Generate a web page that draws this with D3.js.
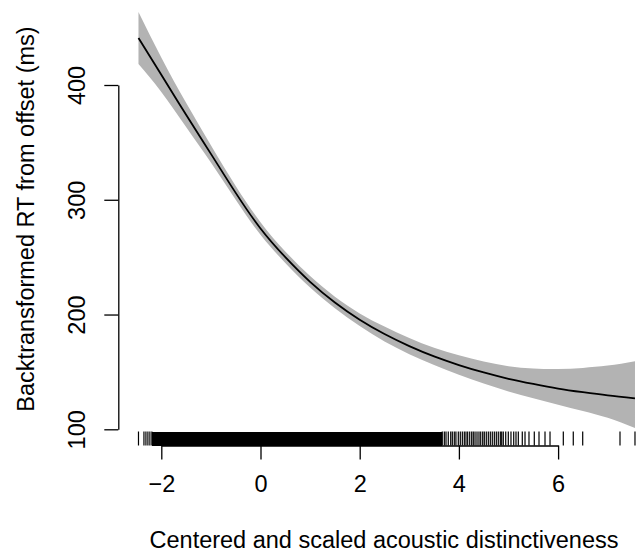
<!DOCTYPE html>
<html>
<head>
<meta charset="utf-8">
<script src="https://cdn.jsdelivr.net/npm/d3@7"></script>
<style>
  body { margin: 0; background: #fff; }
  text { font-family: "Liberation Sans", Arial, sans-serif; }
</style>
</head>
<body>
<div id="chart"></div>
<script>
// fitted curve and 95% band
var xGrid = [-2.46, -2.0, -1.5, -1.0, -0.5, 0.0, 0.5, 1.0, 1.5, 2.0, 2.5, 3.0, 3.5, 4.0, 4.5, 5.0, 5.5, 6.0, 6.5, 7.0, 7.55];
var fit   = [441, 409, 374, 340, 306, 275, 250, 228.5, 210.5, 195.5, 183, 172.5, 163.5, 156, 149.5, 144, 139.5, 135.5, 132.3, 129.5, 127];
var upper = [463.7, 424, 384.5, 347.5, 312, 280.5, 255, 233.5, 215.5, 201, 189.5, 179.5, 171, 164.5, 159, 155, 153, 152.5, 153.5, 155.5, 159.4];
var lower = [418.3, 394, 363.5, 332.5, 300, 269.5, 245, 223.5, 205.5, 190, 176.5, 165.5, 156, 147.5, 140, 133, 127, 121.5, 116, 110, 101.2];

// rug: the solid block of observations and the scattered ones around it
var rugDense = [-2.15,-2.1,-2.05,-2,-1.95,-1.9,-1.85,-1.8,-1.75,-1.7,-1.65,-1.6,-1.55,-1.5,-1.45,-1.4,-1.35,-1.3,-1.25,-1.2,
  -1.15,-1.1,-1.05,-1,-0.95,-0.9,-0.85,-0.8,-0.75,-0.7,-0.65,-0.6,-0.55,-0.5,-0.45,-0.4,-0.35,-0.3,-0.25,-0.2,
  -0.15,-0.1,-0.05,0,0.05,0.1,0.15,0.2,0.25,0.3,0.35,0.4,0.45,0.5,0.55,0.6,0.65,0.7,0.75,0.8,
  0.85,0.9,0.95,1,1.05,1.1,1.15,1.2,1.25,1.3,1.35,1.4,1.45,1.5,1.55,1.6,1.65,1.7,1.75,1.8,
  1.85,1.9,1.95,2,2.05,2.1,2.15,2.2,2.25,2.3,2.35,2.4,2.45,2.5,2.55,2.6,2.65,2.7,2.75,2.8,
  2.85,2.9,2.95,3,3.05,3.1,3.15,3.2,3.25,3.3,3.35,3.4,3.45,3.5,3.55,3.6,3.63];
var rugSparse = [-2.46,-2.35,-2.31,-2.27,-2.23,-2.19,
  3.665,3.706,3.74,3.786,3.835,3.867,3.907,3.94,3.988,4.028,4.069,4.109,4.143,4.177,4.218,4.258,4.29,4.325,
  4.365,4.405,4.44,4.48,4.512,4.552,4.593,4.633,4.673,4.714,4.754,4.794,4.835,4.863,4.895,4.944,4.996,
  5.05,5.105,5.151,5.198,5.278,5.333,5.413,5.52,5.615,5.736,5.837,6.105,6.306,6.496,7.248,7.55];

var xTicks = [-2, 0, 2, 4, 6];
var yTicks = [100, 200, 300, 400];

var width = 639, height = 552;
var plotBottom = 445.5, plotLeft = 118.3;

var svg = d3.select("#chart").append("svg")
    .attr("width", width).attr("height", height)
    .style("background", "#fff");

var x = d3.scaleLinear().domain([-2, 6]).range([161.3, 558.1]);
var y = d3.scaleLinear().domain([100, 400]).range([429.3, 85]);

var pts = xGrid.map(function(d, i) { return {x: d, f: fit[i], lo: lower[i], hi: upper[i]}; });

svg.append("path")
    .datum(pts)
    .attr("fill", "#b3b3b3")
    .attr("d", d3.area()
        .curve(d3.curveNatural)
        .x(function(d) { return x(d.x); })
        .y0(function(d) { return y(d.lo); })
        .y1(function(d) { return y(d.hi); }));

svg.append("path")
    .datum(pts)
    .attr("fill", "none")
    .attr("stroke", "#000")
    .attr("stroke-width", 1.8)
    .attr("d", d3.line()
        .curve(d3.curveNatural)
        .x(function(d) { return x(d.x); })
        .y(function(d) { return y(d.f); }));

// rug
svg.append("g").selectAll("line")
    .data(rugDense).enter().append("line")
    .attr("x1", function(d) { return x(d); }).attr("x2", function(d) { return x(d); })
    .attr("y1", plotBottom).attr("y2", plotBottom - 14)
    .attr("stroke", "#000").attr("stroke-width", 3)
    .attr("shape-rendering", "crispEdges");

svg.append("g").selectAll("line")
    .data(rugSparse).enter().append("line")
    .attr("x1", function(d) { return x(d); }).attr("x2", function(d) { return x(d); })
    .attr("y1", plotBottom).attr("y2", plotBottom - 14)
    .attr("stroke", "#000").attr("stroke-width", 1.2);

// axes
var gx = svg.append("g")
    .attr("transform", "translate(0," + plotBottom + ")")
    .call(d3.axisBottom(x).tickValues(xTicks).tickSizeInner(14).tickSizeOuter(0));

var gy = svg.append("g")
    .attr("transform", "translate(" + plotLeft + ",0)")
    .call(d3.axisLeft(y).tickValues(yTicks).tickSizeInner(14).tickSizeOuter(0));

svg.selectAll(".domain, .tick line").attr("stroke", "#000").attr("stroke-width", 1.3);

gx.selectAll("text")
    .attr("y", 46).attr("dy", 0)
    .attr("fill", "#000")
    .style("font-size", "23.5px")
    .style("font-family", "Liberation Sans, Arial, sans-serif");

gy.selectAll("text")
    .attr("transform", "rotate(-90)")
    .attr("x", 0).attr("y", -33).attr("dy", 0)
    .attr("text-anchor", "middle")
    .attr("fill", "#000")
    .style("font-size", "23.5px")
    .style("font-family", "Liberation Sans, Arial, sans-serif");

// titles
svg.append("text")
    .attr("x", 384).attr("y", 548)
    .attr("text-anchor", "middle")
    .style("font-size", "23.5px")
    .text("Centered and scaled acoustic distinctiveness");

svg.append("text")
    .attr("transform", "translate(34,219) rotate(-90)")
    .attr("text-anchor", "middle")
    .style("font-size", "23.5px")
    .text("Backtransformed RT from offset (ms)");
</script>
</body>
</html>
